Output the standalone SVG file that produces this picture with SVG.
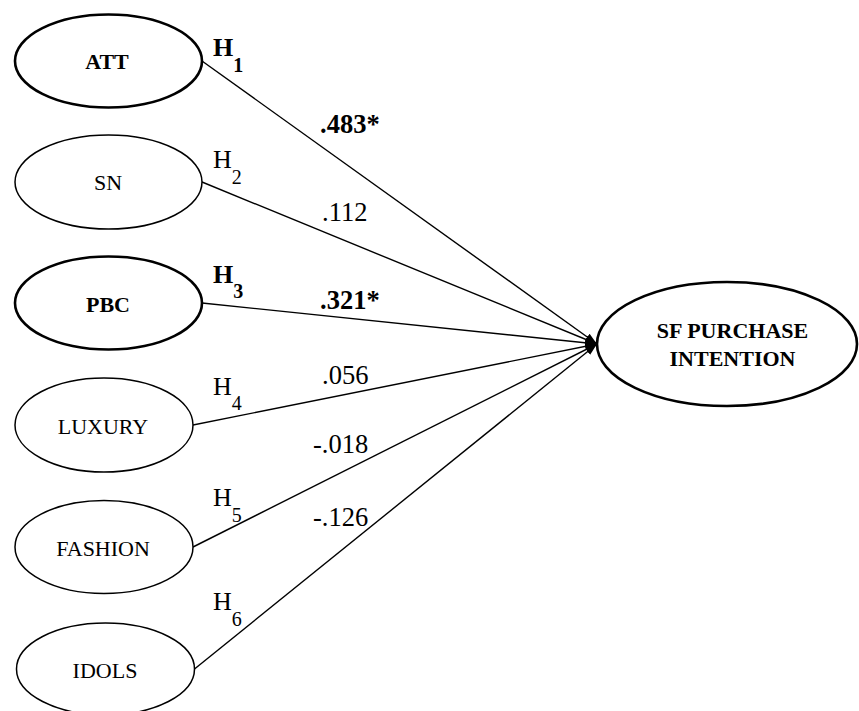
<svg xmlns="http://www.w3.org/2000/svg" width="859" height="711" viewBox="0 0 859 711">
<style>
.node{fill:#fff;stroke:#000;stroke-width:1.5}
.bold{stroke-width:2.6}
.lbl{font-size:22px;text-anchor:middle;fill:#000}
.b{font-weight:bold}
.edge{stroke:#000;stroke-width:1.4;fill:none;marker-end:url(#arr)}
.h{font-size:26px;fill:#000}
.num{font-size:26.5px;fill:#000}
</style>
<defs>
<marker id="arr" markerUnits="userSpaceOnUse" markerWidth="13" markerHeight="9" refX="12" refY="4" orient="auto">
<path d="M0,0 L12,4 L0,8 z" fill="#000"/>
</marker>
</defs>
<rect width="859" height="711" fill="#fff"/>
<g id="connectors">
<line class="edge" x1="202" y1="61" x2="597" y2="344"/>
<line class="edge" x1="202" y1="182" x2="597" y2="344"/>
<line class="edge" x1="202" y1="303" x2="597" y2="344"/>
<line class="edge" x1="193" y1="425" x2="597" y2="344"/>
<line class="edge" x1="193" y1="547" x2="597" y2="344"/>
<line class="edge" x1="194.5" y1="669" x2="597" y2="344"/>
</g>
<g id="labels" font-family="Liberation Serif">
<text class="h b" font-family="Liberation Serif" x="213" y="56">H<tspan dy="16" font-size="20">1</tspan></text>
<text class="num b" font-family="Liberation Serif" x="320" y="133">.483*</text>
<text class="h" font-family="Liberation Serif" x="213" y="168">H<tspan dy="16" font-size="20">2</tspan></text>
<text class="num" font-family="Liberation Serif" x="322" y="221">.112</text>
<text class="h b" font-family="Liberation Serif" x="213" y="283">H<tspan dy="15" font-size="20">3</tspan></text>
<text class="num b" font-family="Liberation Serif" x="320" y="309">.321*</text>
<text class="h" font-family="Liberation Serif" x="213" y="395">H<tspan dy="15" font-size="20">4</tspan></text>
<text class="num" font-family="Liberation Serif" x="322" y="384">.056</text>
<text class="h" font-family="Liberation Serif" x="213" y="506">H<tspan dy="16" font-size="20">5</tspan></text>
<text class="num" font-family="Liberation Serif" x="313" y="453">-.018</text>
<text class="h" font-family="Liberation Serif" x="213" y="610">H<tspan dy="16" font-size="20">6</tspan></text>
<text class="num" font-family="Liberation Serif" x="313" y="526">-.126</text>
</g>
<g id="att">
<ellipse class="node bold" cx="108.5" cy="61" rx="93.5" ry="46.5"/>
<text class="lbl b" font-family="Liberation Serif" x="107" y="69">ATT</text>
</g>
<g id="sn">
<ellipse class="node" cx="108.5" cy="182" rx="93.5" ry="47"/>
<text class="lbl" font-family="Liberation Serif" x="108" y="190">SN</text>
</g>
<g id="pbc">
<ellipse class="node bold" cx="108.5" cy="303" rx="93.5" ry="46.5"/>
<text class="lbl b" font-family="Liberation Serif" x="108" y="312">PBC</text>
</g>
<g id="luxury">
<ellipse class="node" cx="104" cy="425" rx="89" ry="47"/>
<text class="lbl" font-family="Liberation Serif" x="103" y="434">LUXURY</text>
</g>
<g id="fashion">
<ellipse class="node" cx="104" cy="547" rx="89" ry="46.5"/>
<text class="lbl" font-family="Liberation Serif" x="103" y="556">FASHION</text>
</g>
<g id="idols">
<ellipse class="node" cx="105.5" cy="669" rx="89" ry="46"/>
<text class="lbl" font-family="Liberation Serif" x="105" y="678">IDOLS</text>
</g>
<g id="sf-purchase-intention">
<ellipse class="node bold" cx="727" cy="344" rx="130" ry="62"/>
<text class="lbl b" font-family="Liberation Serif" x="732.5" y="338">SF PURCHASE</text>
<text class="lbl b" font-family="Liberation Serif" x="732.5" y="366">INTENTION</text>
</g>
</svg>
